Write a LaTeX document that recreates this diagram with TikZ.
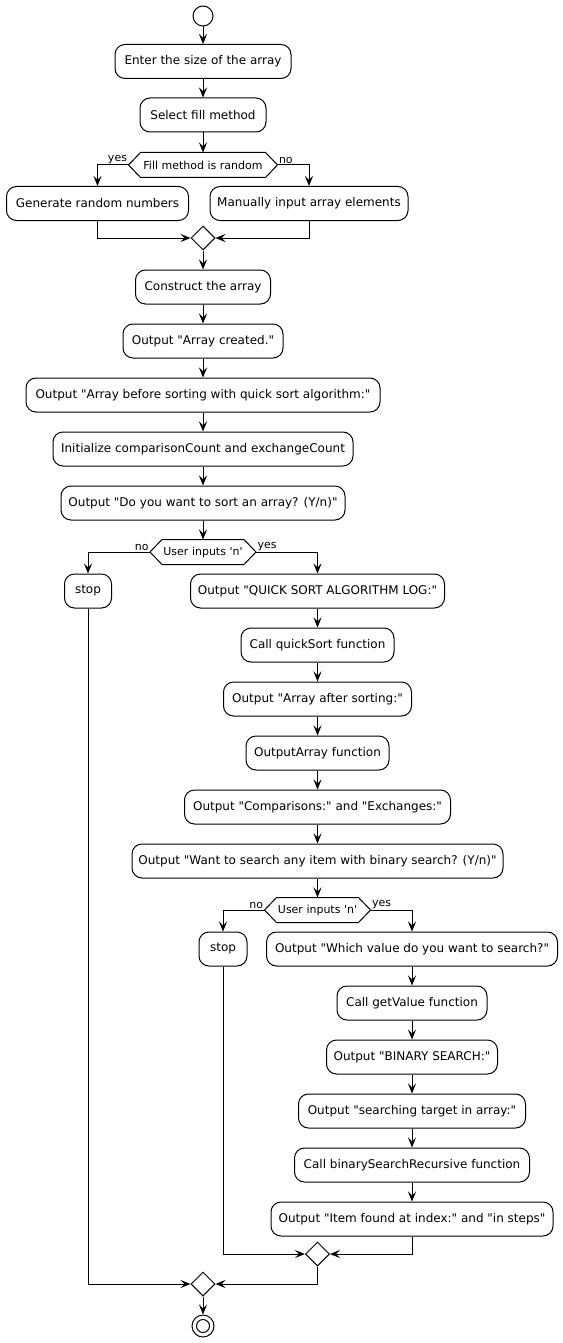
\documentclass[tikz,border=0pt]{standalone}
\usepackage{fontspec}
\newfontfamily\dvs{DejaVu Sans}
\usetikzlibrary{arrows.meta,shapes.geometric}
\newcommand{\fsbox}{\dvs\fontsize{12}{14}\selectfont}
\newcommand{\fssmall}{\dvs\fontsize{11}{13}\selectfont}
\begin{document}
\begin{tikzpicture}[x=1pt,y=-1pt,
  line width=1pt,
  act/.style={draw, rounded corners=10pt, minimum height=34pt, inner sep=0pt, font=\fsbox, align=center},
  hexn/.style={minimum height=24pt, inner sep=0pt, font=\fssmall},
  merge/.style={draw, diamond, minimum width=24pt, minimum height=24pt, inner sep=0pt, aspect=1},
  arr/.style={-{Stealth[length=10pt,width=8pt,inset=4pt]}},
  lab/.style={font=\fssmall, inner sep=1pt}
]
\useasboundingbox (0,0) rectangle (562,1343);
\fill[white] (0,0) rectangle (562,1343);

% nodes
\node[draw, circle, minimum size=20pt, inner sep=0pt] (start) at (203,16) {};
\node[act, minimum width=176pt] (enter) at (203,61.5) {Enter the size of the array};
\node[act, minimum width=126pt] (select) at (203,115) {Select fill method};
\node[hexn, minimum width=148pt] (h1) at (203,165) {Fill method is random};
\node[act, minimum width=182pt] (gen) at (97.5,203.5) {Generate random numbers};
\node[act, minimum width=198pt] (man) at (309,203.5) {Manually input array elements};
\node[merge] (m1) at (203,238) {};
\node[act, minimum width=135pt] (construct) at (203,287) {Construct the array};
\node[act, minimum width=160pt] (created) at (203,341) {Output "Array created."};
\node[act, minimum width=354pt] (before) at (203,395) {Output "Array before sorting with quick sort algorithm:"};
\node[act, minimum width=300pt] (init) at (203,449) {Initialize comparisonCount and exchangeCount};
\node[act, minimum width=284pt] (dosort) at (203,503) {Output "Do you want to sort an array? (Y/n)"};
\node[hexn, minimum width=105pt] (h2) at (203,552) {User inputs 'n'};
\node[act, minimum width=47pt] (stopa) at (88,591) {stop};
\node[act, minimum width=254pt] (qs) at (317.5,591) {Output "QUICK SORT ALGORITHM LOG:"};
\node[act, minimum width=153pt] (callqs) at (317.5,645) {Call quickSort function};
\node[act, minimum width=188pt] (after) at (317.5,699) {Output "Array after sorting:"};
\node[act, minimum width=143pt] (outarr) at (317.5,753) {OutputArray function};
\node[act, minimum width=266pt] (comp) at (317.5,807) {Output "Comparisons:" and "Exchanges:"};
\node[act, minimum width=371pt] (want) at (317.5,861) {Output "Want to search any item with binary search? (Y/n)"};
\node[hexn, minimum width=105pt] (h3) at (317.5,910) {User inputs 'n'};
\node[act, minimum width=48pt] (stopb) at (223,949) {stop};
\node[act, minimum width=291pt] (which) at (412,949) {Output "Which value do you want to search?"};
\node[act, minimum width=150pt] (getv) at (412,1003) {Call getValue function};
\node[act, minimum width=171pt] (bin) at (412,1057) {Output "BINARY SEARCH:"};
\node[act, minimum width=227pt] (searching) at (412,1111) {Output "searching target in array:"};
\node[act, minimum width=235pt] (binrec) at (412,1165) {Call binarySearchRecursive function};
\node[act, minimum width=282pt] (item) at (412,1219) {Output "Item found at index:" and "in steps"};
\node[merge] (m2) at (317.5,1254) {};
\node[merge] (m3) at (203,1284) {};
\node[draw, circle, minimum size=22pt, inner sep=0pt] (endn) at (203,1326) {};
\node[draw, circle, minimum size=13pt, inner sep=0pt] (endin) at (endn.center) {};

% hexagons
\foreach \h in {h1,h2,h3}{
  \draw (\h.west) -- ([xshift=12pt]\h.north west) -- ([xshift=-12pt]\h.north east) -- (\h.east)
        -- ([xshift=-12pt]\h.south east) -- ([xshift=12pt]\h.south west) -- cycle;
}

% labels
\node[lab, anchor=south east] (y1) at (h1.west) {yes};
\node[lab, anchor=south west] (n1) at (h1.east) {no};
\node[lab, anchor=south east] (n2) at (h2.west) {no};
\node[lab, anchor=south west] (y2) at (h2.east) {yes};
\node[lab, anchor=south east] (n3) at (h3.west) {no};
\node[lab, anchor=south west] (y3) at (h3.east) {yes};

% connectors
\draw[arr] (start) -- (enter);
\draw[arr] (enter) -- (select);
\draw[arr] (select) -- (h1);
\draw[arr] (h1.west) -| (gen.north);
\draw[arr] (h1.east) -| (man.north);
\draw[arr] (gen.south) |- (m1.west);
\draw[arr] (man.south) |- (m1.east);
\draw[arr] (m1) -- (construct);
\draw[arr] (construct) -- (created);
\draw[arr] (created) -- (before);
\draw[arr] (before) -- (init);
\draw[arr] (init) -- (dosort);
\draw[arr] (dosort) -- (h2);
\draw[arr] (h2.west) -| (stopa.north);
\draw[arr] (h2.east) -| (qs.north);
\draw[arr] (qs) -- (callqs);
\draw[arr] (callqs) -- (after);
\draw[arr] (after) -- (outarr);
\draw[arr] (outarr) -- (comp);
\draw[arr] (comp) -- (want);
\draw[arr] (want) -- (h3);
\draw[arr] (h3.west) -| (stopb.north);
\draw[arr] (h3.east) -| (which.north);
\draw[arr] (which) -- (getv);
\draw[arr] (getv) -- (bin);
\draw[arr] (bin) -- (searching);
\draw[arr] (searching) -- (binrec);
\draw[arr] (binrec) -- (item);
\draw[arr] (stopb.south) |- (m2.west);
\draw[arr] (item.south) |- (m2.east);
\draw[arr] (stopa.south) |- (m3.west);
\draw[arr] (m2.south) |- (m3.east);
\draw[arr] (m3) -- (endn);
\end{tikzpicture}
\end{document}
